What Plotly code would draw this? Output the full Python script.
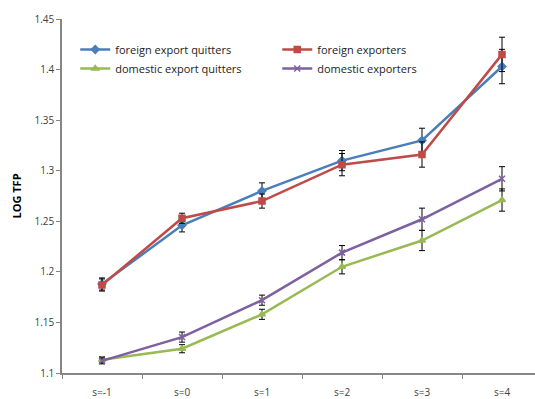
import plotly.graph_objects as go

categories = ["s=-1", "s=0", "s=1", "s=2", "s=3", "s=4"]

foreign_quitters = [1.188, 1.246, 1.280, 1.310, 1.330, 1.403]
foreign_quitters_err = [0.006, 0.0065, 0.008, 0.010, 0.012, 0.017]

foreign_exporters = [1.187, 1.253, 1.270, 1.306, 1.316, 1.415]
foreign_exporters_err = [0.006, 0.005, 0.007, 0.011, 0.0125, 0.017]

domestic_quitters = [1.113, 1.124, 1.158, 1.205, 1.231, 1.271]
domestic_quitters_err = [0.003, 0.004, 0.005, 0.007, 0.010, 0.011]

domestic_exporters = [1.112, 1.1355, 1.172, 1.219, 1.252, 1.292]
domestic_exporters_err = [0.003, 0.005, 0.005, 0.007, 0.011, 0.012]

series = [
    ("foreign export quitters", foreign_quitters, foreign_quitters_err, "#4A7EBB", "diamond", 6),
    ("foreign exporters", foreign_exporters, foreign_exporters_err, "#BE4B48", "square", 6),
    ("domestic export quitters", domestic_quitters, domestic_quitters_err, "#98B954", "triangle-up", 6),
    ("domestic exporters", domestic_exporters, domestic_exporters_err, "#7D60A0", "x-thin", 6),
]

fig = go.Figure()
for name, vals, errs, color, sym, size in series:
    fig.add_trace(go.Scatter(
        x=categories, y=vals, name=name, mode="lines+markers",
        line=dict(color=color, width=2.5),
        marker=dict(symbol=sym, size=size, color=color,
                    line=dict(color=color, width=1.5)),
        error_y=dict(type="data", array=errs, visible=True,
                     color="#000000", thickness=1, width=3),
    ))

fig.update_layout(
    width=535, height=399,
    margin=dict(l=62, r=0, t=19, b=26),
    paper_bgcolor="white", plot_bgcolor="white",
    font=dict(family="Open Sans", size=10, color="#404040"),
    showlegend=True,
    legend=dict(
        orientation="h", x=0.028, y=0.955, xanchor="left", yanchor="top",
        entrywidth=157, entrywidthmode="pixels",
        font=dict(family="Open Sans", size=11, color="#222222"),
        bgcolor="rgba(0,0,0,0)", itemwidth=30, tracegroupgap=0,
    ),
    xaxis=dict(
        type="category", range=[-0.5, 5.4125],
        showline=True, linecolor="#868686", linewidth=1.5,
        ticks="outside", ticklen=4, tickcolor="#868686", tickson="boundaries",
        ticklabelstandoff=9,
        showgrid=False, zeroline=False,
        tickfont=dict(size=10, color="#404040"),
    ),
    yaxis=dict(
        range=[1.1, 1.45], dtick=0.05, tick0=1.1,
        showline=True, linecolor="#868686", linewidth=1.5,
        ticks="outside", ticklen=4, tickcolor="#868686",
        showgrid=False, zeroline=False,
        tickfont=dict(size=10, color="#404040"),
        title=dict(text="<b>LOG TFP</b>", font=dict(size=11, color="#000000"), standoff=11),
    ),
)

fig.write_html("out.html")
